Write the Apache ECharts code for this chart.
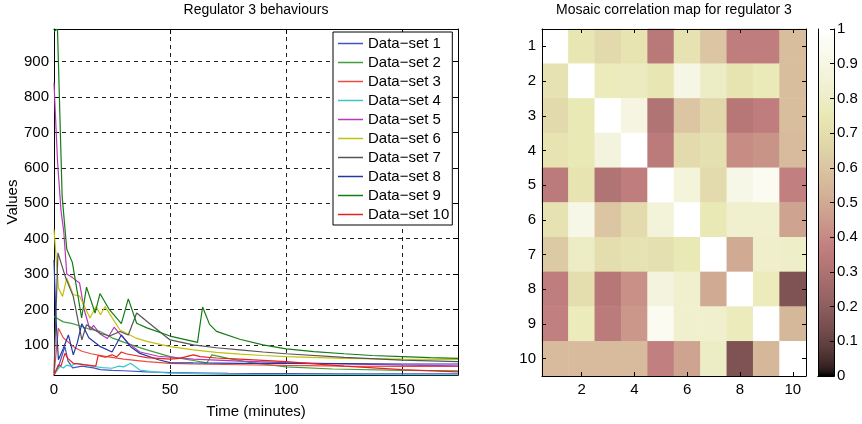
<!DOCTYPE html>
<html>
<head>
<meta charset="utf-8">
<script src="https://cdn.jsdelivr.net/npm/echarts@6/dist/echarts.min.js"></script>
<style>
  html, body { margin: 0; padding: 0; background: #fff; }
  #chart { width: 862px; height: 424px; }
</style>
</head>
<body>
<div id="chart"></div>
<script>
// ---- Regulator 3 time courses: [time (minutes), value] ----
const seriesNames = ['Data\u2212set 1', 'Data\u2212set 2', 'Data\u2212set 3', 'Data\u2212set 4', 'Data\u2212set 5',
  'Data\u2212set 6', 'Data\u2212set 7', 'Data\u2212set 8', 'Data\u2212set 9', 'Data\u2212set 10'];

const set1 = [[0, 15], [2, 40], [4.7, 95], [6, 55], [8, 35], [12, 40], [17, 35], [20, 30], [25, 28], [30, 27],
  [40, 24], [50, 22], [75, 20], [100, 19], [125, 18], [150, 18], [174, 18]];
const set2 = [[0, 180], [4, 165], [8, 160], [11.9, 152], [15, 145], [19.8, 138], [25, 120], [30, 108], [35.6, 95],
  [40, 86], [50, 67], [60, 56], [65.8, 49], [68, 72], [75, 62], [85, 50], [100, 38], [120, 32], [150, 28], [174, 27]];
const set3 = [[0, 15], [1.9, 147], [4, 120], [8.3, 95], [12, 82], [16, 75], [22.7, 67], [30, 60], [40, 53], [50, 48],
  [60, 46], [80, 44], [100, 42], [125, 40], [150, 39], [174, 39]];
const set4 = [[0, 15], [2.6, 39], [4, 35], [5.5, 43], [7, 40], [9.8, 48], [13, 44], [17, 39], [21, 36], [25, 34],
  [28, 40], [30, 38], [33, 48], [37, 29], [43, 24], [50, 20], [75, 17], [100, 16], [150, 15], [174, 15]];
const set5 = [[0, 840], [1.5, 620], [3, 480], [4.2, 420], [5.5, 300], [8, 290], [11, 275], [13, 200], [15.5, 142],
  [17, 155], [20, 130], [23, 118], [25.9, 150], [28, 133], [32, 105], [37, 80], [45, 68], [60, 60], [80, 54],
  [100, 50], [125, 46], [150, 43], [174, 41]];
const set6 = [[0, 426], [1.9, 261], [3.7, 237], [5.5, 289], [8.3, 242], [11, 238], [15.5, 176], [18.1, 208],
  [20, 185], [22, 208], [28.4, 142], [35, 120], [40, 110], [50, 95], [60, 86], [70, 79], [80, 74], [90, 70],
  [100, 67], [125, 62], [150, 60], [174, 59]];
const set7 = [[0, 20], [1.7, 360], [5, 290], [8.3, 237], [12, 114], [14, 157], [19.8, 133], [24, 125], [28.4, 138],
  [32, 128], [35.6, 190], [41, 161], [50, 114], [60, 100], [70, 92], [80, 86], [90, 80], [100, 75], [125, 65],
  [150, 57], [174, 53]];
const set8 = [[0, 340], [0.8, 180], [1.9, 58], [4, 90], [6.2, 128], [8.3, 72], [10, 105], [12, 160], [15, 120],
  [20, 95], [25, 80], [29, 128], [33, 95], [37, 76], [45, 58], [50, 50], [60, 49], [80, 48], [100, 48], [125, 47],
  [150, 46], [174, 46]];
const set9 = [[0, 985], [1.5, 992], [3.5, 520], [5.5, 370], [7.9, 333], [11.9, 176], [14, 263], [17.7, 190],
  [19.8, 245], [23.8, 200], [29, 160], [32, 230], [35.6, 161], [40, 148], [50, 125], [61.8, 107], [64, 207],
  [67, 158], [70, 138], [80, 116], [90, 100], [100, 89], [112, 81], [125, 75], [137, 70], [150, 67], [162, 64],
  [174, 62]];
const set10 = [[0, 15], [1.9, 44], [3, 40], [4.7, 76], [6, 62], [8.3, 48], [12, 45], [18, 40], [19, 70], [22, 65],
  [25, 72], [27, 66], [29, 80], [31, 75], [35, 70], [40, 64], [50, 60], [54, 62], [60, 72], [63, 67], [70, 63],
  [80, 60], [100, 53], [125, 40], [150, 30], [174, 24]];

const timeRange = [0, 174];
const valueRange = [15, 992];

// ---- Correlation between the ten data sets ----
const regulators = ['1', '2', '3', '4', '5', '6', '7', '8', '9', '10'];
const corrMatrix = [
  [1.00, 0.74, 0.68, 0.73, 0.34, 0.72, 0.60, 0.36, 0.36, 0.57],
  [0.72, 1.00, 0.77, 0.78, 0.74, 0.90, 0.80, 0.73, 0.76, 0.57],
  [0.68, 0.75, 1.00, 0.89, 0.31, 0.60, 0.67, 0.33, 0.36, 0.57],
  [0.73, 0.75, 0.88, 1.00, 0.35, 0.69, 0.71, 0.41, 0.43, 0.56],
  [0.35, 0.73, 0.31, 0.36, 1.00, 0.87, 0.69, 0.91, 0.95, 0.37],
  [0.72, 0.91, 0.60, 0.69, 0.86, 1.00, 0.75, 0.83, 0.83, 0.48],
  [0.62, 0.80, 0.70, 0.72, 0.71, 0.75, 1.00, 0.50, 0.82, 0.81],
  [0.36, 0.70, 0.33, 0.42, 0.88, 0.83, 0.50, 1.00, 0.77, 0.16],
  [0.37, 0.77, 0.35, 0.44, 0.95, 0.83, 0.83, 0.77, 1.00, 0.55],
  [0.56, 0.56, 0.56, 0.56, 0.37, 0.48, 0.80, 0.16, 0.55, 1.00]
];
const colorRange = [0, 1];

// ---- styling ----
const lineColors = ['#3f55c4', '#3f9f3f', '#ec4a40', '#3cc6ca', '#b836b8', '#c2c10e', '#555555', '#2438a0',
  '#137d13', '#e3241e'];
const FONT = 'Liberation Sans, Arial, Helvetica, sans-serif';

// MATLAB-style "pink" colormap: sqrt((2*gray + hot) / 3)
function pinkColormap(n) {
  const out = [];
  for (let i = 0; i < n; i++) {
    const t = i / (n - 1);
    const hot = [
      Math.min(1, t / 0.375),
      Math.min(1, Math.max(0, (t - 0.375) / 0.375)),
      Math.max(0, (t - 0.75) / 0.25)
    ];
    const c = hot.map(h => Math.round(255 * Math.sqrt((2 * t + h) / 3)));
    out.push('rgb(' + c.join(',') + ')');
  }
  return out;
}
const pink = pinkColormap(64);

const allSets = [set1, set2, set3, set4, set5, set6, set7, set8, set9, set10];

const heatData = [];
corrMatrix.forEach((row, r) => row.forEach((v, c) => heatData.push([c, r, v])));

const black = { color: '#000', width: 1 };
const evenOnly = (i) => i % 2 === 1;

const chart = echarts.init(document.getElementById('chart'), null, { renderer: 'canvas' });

const option = {
  animation: false,
  textStyle: { fontFamily: FONT, color: '#000' },
  title: [
    { text: 'Regulator 3 behaviours', left: 256, top: 3, textAlign: 'center', padding: 0,
      textStyle: { fontSize: 14, fontWeight: 'normal', color: '#000', fontFamily: FONT } },
    { text: 'Mosaic correlation map for regulator 3', left: 674, top: 3, textAlign: 'center', padding: 0,
      textStyle: { fontSize: 14, fontWeight: 'normal', color: '#000', fontFamily: FONT } }
  ],
  grid: [
    { left: 54, top: 29, width: 404, height: 346 },
    { left: 542, top: 29, width: 264, height: 347 },
    { left: 818, top: 29, width: 16, height: 347 }
  ],
  legend: {
    data: seriesNames,
    orient: 'vertical',
    left: 333, top: 32,
    padding: [4, 3, 3, 5],
    itemGap: 4,
    itemWidth: 25,
    itemHeight: 1.5,
    icon: 'rect',
    backgroundColor: '#fff',
    borderColor: '#000',
    borderWidth: 1,
    selectedMode: false,
    z: 20,
    textStyle: { fontSize: 15, color: '#000', fontFamily: FONT }
  },
  visualMap: {
    type: 'continuous',
    show: false,
    min: colorRange[0], max: colorRange[1],
    dimension: 2,
    seriesIndex: 10,
    inRange: { color: pink }
  },
  xAxis: [
    {
      type: 'value', gridIndex: 0, min: timeRange[0], max: timeRange[1], interval: 50, position: 'bottom',
      axisLine: { show: true, onZero: false, lineStyle: black },
      axisTick: { show: true, inside: true, length: 5, lineStyle: black },
      axisLabel: { fontSize: 15, color: '#000', margin: 7, showMaxLabel: false },
      splitLine: { show: true, lineStyle: { color: '#222', width: 1, type: [4, 4] } },
      name: 'Time (minutes)', nameLocation: 'middle', nameGap: 29,
      nameTextStyle: { fontSize: 15, color: '#000' }
    },
    {
      type: 'value', gridIndex: 0, min: timeRange[0], max: timeRange[1], interval: 50, position: 'top',
      axisLine: { show: true, onZero: false, lineStyle: black },
      axisTick: { show: true, inside: true, length: 5, lineStyle: black },
      axisLabel: { show: false }, splitLine: { show: false }
    },
    {
      type: 'category', gridIndex: 1, data: regulators, position: 'bottom', z: 10,
      axisLine: { show: true, lineStyle: black },
      axisTick: { show: true, inside: true, alignWithLabel: true, interval: evenOnly, length: 4, lineStyle: black },
      axisLabel: { interval: evenOnly, fontSize: 15, color: '#000', margin: 6 },
      splitLine: { show: false }
    },
    {
      type: 'category', gridIndex: 1, data: regulators, position: 'top', z: 10,
      axisLine: { show: true, lineStyle: black },
      axisTick: { show: true, inside: true, alignWithLabel: true, interval: evenOnly, length: 4, lineStyle: black },
      axisLabel: { show: false }, splitLine: { show: false }
    },
    {
      type: 'category', gridIndex: 2, data: [''], position: 'bottom', z: 10,
      axisLine: { show: true, lineStyle: black },
      axisTick: { show: false }, axisLabel: { show: false }, splitLine: { show: false }
    },
    {
      type: 'category', gridIndex: 2, data: [''], position: 'top', z: 10,
      axisLine: { show: true, lineStyle: black },
      axisTick: { show: false }, axisLabel: { show: false }, splitLine: { show: false }
    }
  ],
  yAxis: [
    {
      type: 'value', gridIndex: 0, min: valueRange[0], max: valueRange[1], splitNumber: 10, position: 'left',
      axisLine: { show: true, onZero: false, lineStyle: black },
      axisTick: { show: true, inside: true, length: 5, lineStyle: black },
      axisLabel: { fontSize: 15, color: '#000', margin: 5, showMinLabel: false, showMaxLabel: false },
      splitLine: { show: true, lineStyle: { color: '#222', width: 1, type: [4, 4] } },
      name: 'Values', nameLocation: 'middle', nameGap: 34, nameRotate: 90,
      nameTextStyle: { fontSize: 15, color: '#000' }
    },
    {
      type: 'value', gridIndex: 0, min: valueRange[0], max: valueRange[1], splitNumber: 10, position: 'right',
      axisLine: { show: true, onZero: false, lineStyle: black },
      axisTick: { show: true, inside: true, length: 5, lineStyle: black },
      axisLabel: { show: false }, splitLine: { show: false }
    },
    {
      type: 'category', gridIndex: 1, data: regulators, inverse: true, position: 'left', z: 10,
      axisLine: { show: true, lineStyle: black },
      axisTick: { show: true, inside: true, alignWithLabel: true, length: 4, lineStyle: black },
      axisLabel: { interval: 0, fontSize: 15, color: '#000', margin: 6 },
      splitLine: { show: false }
    },
    {
      type: 'category', gridIndex: 1, data: regulators, inverse: true, position: 'right', z: 10,
      axisLine: { show: true, lineStyle: black },
      axisTick: { show: true, inside: true, alignWithLabel: true, length: 4, lineStyle: black },
      axisLabel: { show: false }, splitLine: { show: false }
    },
    {
      type: 'value', gridIndex: 2, min: colorRange[0], max: colorRange[1], interval: 0.1, position: 'right', z: 10,
      axisLine: { show: true, lineStyle: black },
      axisTick: { show: true, inside: true, length: 4, lineStyle: black },
      axisLabel: { fontSize: 15, color: '#000', margin: 3 },
      splitLine: { show: false }
    },
    {
      type: 'value', gridIndex: 2, min: colorRange[0], max: colorRange[1], position: 'left', z: 10,
      axisLine: { show: true, lineStyle: black },
      axisTick: { show: false }, axisLabel: { show: false }, splitLine: { show: false }
    }
  ],
  series: [
    ...allSets.map((d, i) => ({
      type: 'line',
      name: seriesNames[i],
      data: d,
      xAxisIndex: 0, yAxisIndex: 0,
      symbol: 'none', showSymbol: false,
      lineStyle: { width: 1.2, color: lineColors[i] },
      itemStyle: { color: lineColors[i] },
      emphasis: { disabled: true },
      clip: true
    })),
    {
      type: 'heatmap',
      xAxisIndex: 2, yAxisIndex: 2,
      data: heatData,
      emphasis: { disabled: true }
    },
    {
      type: 'bar',
      xAxisIndex: 4, yAxisIndex: 4,
      data: [colorRange[1]],
      barWidth: '100%',
      silent: true,
      itemStyle: {
        color: new echarts.graphic.LinearGradient(0, 1, 0, 0,
          pink.map((c, i) => ({ offset: i / (pink.length - 1), color: c })))
      }
    }
  ]
};

chart.setOption(option);
</script>
</body>
</html>
